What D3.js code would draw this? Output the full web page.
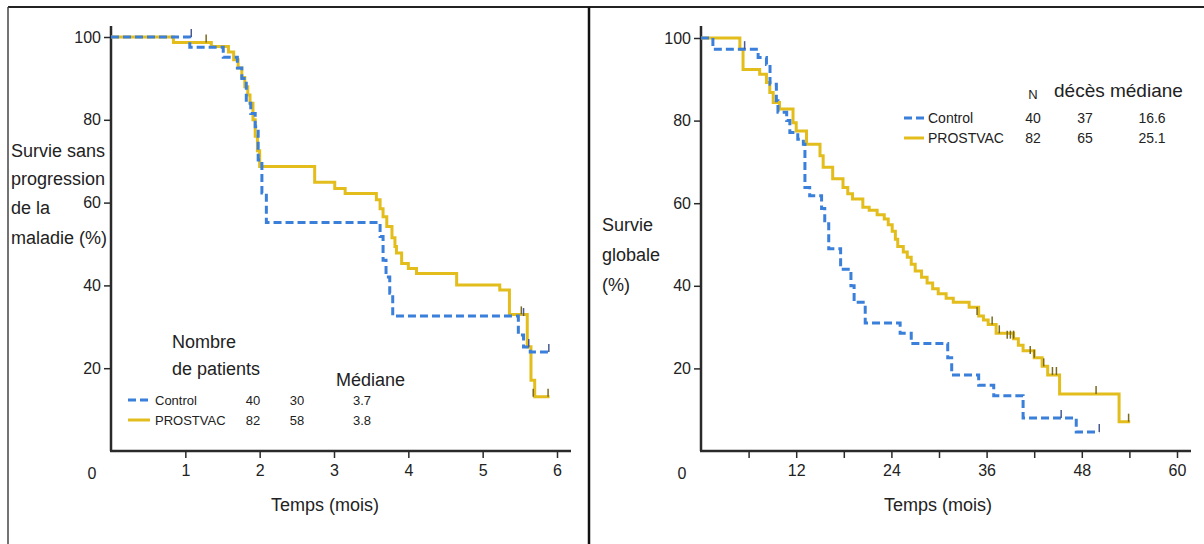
<!DOCTYPE html>
<html>
<head>
<meta charset="utf-8">
<script src="https://cdn.jsdelivr.net/npm/d3@7"></script>
<style>
  body { margin: 0; background: #fff; }
  text { font-family: "Liberation Sans", Arial, sans-serif; fill: #222; }
</style>
</head>
<body>
<script>
// left panel : survie sans progression (mois)
const pfsCtrl = [[0,100],[1.06,97.5],[1.51,95.1],[1.70,92.5],[1.76,90],[1.82,84],[1.88,81.5],[1.94,78.3],[1.98,70.3],[2.03,62.3],[2.09,55.2],[3.62,51.8],[3.66,46.1],[3.70,42],[3.75,38.1],[3.79,32.6],[5.48,28],[5.55,25.1],[5.64,23.9],[5.89,23.9]];
const pfsVac = [[0,100],[0.84,98.7],[1.35,97.7],[1.58,96.4],[1.65,94.5],[1.71,92.5],[1.76,90.2],[1.80,88],[1.84,86],[1.87,84],[1.91,80],[1.94,76],[1.97,72.5],[2.0,68.7],[2.74,64.9],[3.01,63.4],[3.15,62.2],[3.57,60.7],[3.62,58.5],[3.66,56.6],[3.71,54.2],[3.78,51.5],[3.82,49.4],[3.84,47.8],[3.91,45.3],[4.0,44.1],[4.11,42.9],[4.65,40.1],[5.23,38.9],[5.36,33.0],[5.60,25.2],[5.65,17.1],[5.70,13.1],[5.90,13.1]];
const pfsCtrlCens = [[1.08,100],[5.55,32.6],[5.62,25.1],[5.89,23.9]];
const pfsVacCens = [[1.28,98.7],[5.52,33.0],[5.68,13.1],[5.88,13.1]];

// right panel : survie globale (mois)
const osCtrl = [[0,100],[1.5,97.3],[7.2,95.3],[8.25,93.6],[8.7,88.8],[9.5,84.8],[9.7,82],[10.8,80],[11.2,77.1],[12.2,75.5],[12.9,74.3],[13.1,63.8],[13.7,61.8],[15.2,58.7],[15.6,55],[16.1,49],[17.6,44],[18.9,40],[19.3,36],[20.7,31],[25.1,28.5],[26.5,26],[31.1,22.6],[31.6,18.4],[35,15.9],[36.9,13.4],[40.6,8],[47.3,4.6],[50.2,4.6]];
const osVac = [[0,100],[4.9,97.3],[5.3,92.4],[7.4,91.2],[8.25,89.2],[8.67,86.8],[9.1,84.4],[9.9,82.8],[11.6,79.5],[12.0,77.5],[13.3,74.3],[15.0,71.5],[15.4,68.7],[16.6,65.9],[17.9,63.8],[18.5,62.3],[19.1,61],[20.4,59],[21.2,58.3],[22.2,57.2],[23.1,56.2],[23.6,54.8],[24.1,53.2],[24.5,51.3],[24.8,49.5],[25.5,48.2],[26.0,46.9],[26.5,45.2],[27.0,43.6],[27.8,42.1],[28.5,40.7],[29.2,39.3],[29.9,38.1],[30.9,37],[31.8,36],[33.8,34.8],[35.0,32.7],[35.6,31.7],[36.2,30.6],[37.2,28.5],[39.4,27.2],[40.0,25.6],[40.6,24.3],[42.0,22.6],[43.0,20.5],[43.7,18.4],[45.2,13.8],[52.7,7.1],[54.1,7.1]];
const osCtrlCens = [[5.5,97.3],[45.4,8],[50.2,4.6]];
const osVacCens = [[34.8,32.9],[36.7,30.6],[37.6,28.5],[38.6,27.2],[39.0,27.2],[39.4,27.2],[41.5,23.5],[42.0,22.6],[43.2,20.5],[44.3,18.4],[44.8,18.4],[49.8,13.8],[53.9,7.1]];

const pfsTicks = [1, 2, 3, 4, 5, 6];
const osTicks = [6, 12, 18, 24, 30, 36, 42, 48, 54, 60];
const osLabels = [12, 24, 36, 48, 60];
const yTicks = [20, 40, 60, 80, 100];

const pfsLegend = [
  {name: "Control", n: "40", ev: "30", med: "3.7"},
  {name: "PROSTVAC", n: "82", ev: "58", med: "3.8"}
];
const osLegend = [
  {name: "Control", n: "40", ev: "37", med: "16.6"},
  {name: "PROSTVAC", n: "82", ev: "65", med: "25.1"}
];

const blue = "#3a7fd9", gold = "#e3bd1c", axisCol = "#2a2a2a";

const svg = d3.select("body").append("svg")
    .attr("width", 1204)
    .attr("height", 544);

// cadre
svg.append("line").attr("x1", 8).attr("x2", 1204).attr("y1", 7).attr("y2", 7)
    .attr("stroke", "#222").attr("stroke-width", 2);
svg.append("line").attr("x1", 8).attr("x2", 8).attr("y1", 7).attr("y2", 544)
    .attr("stroke", "#444").attr("stroke-width", 1.5);
svg.append("line").attr("x1", 589).attr("x2", 589).attr("y1", 7).attr("y2", 544)
    .attr("stroke", "#111").attr("stroke-width", 2.5);

function panel(cfg) {
  const x = d3.scaleLinear().domain(cfg.xDomain).range(cfg.xRange);
  const y = d3.scaleLinear().domain([0, 100]).range(cfg.yRange);
  const g = svg.append("g");

  // axes
  const xAxis = d3.axisBottom(x).tickValues(cfg.ticks).tickSize(7).tickSizeOuter(0)
      .tickFormat(d => cfg.labels.includes(d) ? d : "");
  g.append("g").attr("transform", "translate(0," + y(0) + ")").call(xAxis)
      .call(a => a.select(".domain").remove())
      .call(a => a.selectAll("line").attr("stroke", axisCol).attr("stroke-width", 1.5))
      .call(a => a.selectAll("text").attr("font-size", 16).attr("dy", "0.95em").attr("fill", "#222")
          .style("font-family", "Liberation Sans, Arial, sans-serif"));
  const yAxis = d3.axisLeft(y).tickValues(yTicks).tickSize(7).tickSizeOuter(0);
  g.append("g").attr("transform", "translate(" + x(0) + ",0)").call(yAxis)
      .call(a => a.select(".domain").remove())
      .call(a => a.selectAll("line").attr("stroke", axisCol).attr("stroke-width", 1.5))
      .call(a => a.selectAll("text").attr("font-size", 16).attr("x", -10).attr("fill", "#222")
          .style("font-family", "Liberation Sans, Arial, sans-serif"));
  g.append("line").attr("x1", x(0) - 1).attr("x2", cfg.axisEnd).attr("y1", y(0)).attr("y2", y(0))
      .attr("stroke", axisCol).attr("stroke-width", 2.5);
  g.append("line").attr("x1", x(0)).attr("x2", x(0)).attr("y1", 26).attr("y2", y(0))
      .attr("stroke", axisCol).attr("stroke-width", 2.5);
  g.append("text").attr("x", x(0) - 19).attr("y", y(0) + 28).attr("text-anchor", "middle")
      .attr("font-size", 16).text("0");
  g.append("text").attr("x", cfg.titleX).attr("y", 511).attr("text-anchor", "middle")
      .attr("font-size", 18).text("Temps (mois)");

  g.selectAll(".ylab").data(cfg.yLabel).enter().append("text")
      .attr("x", cfg.yLabelX).attr("y", (d, i) => cfg.yLabelY[i])
      .attr("font-size", 18).text(d => d);

  // courbes
  const line = d3.line().x(d => x(d[0])).y(d => y(d[1])).curve(d3.curveStepAfter);
  g.append("path").datum(cfg.vac).attr("d", line).attr("fill", "none")
      .attr("stroke", gold).attr("stroke-width", 3);
  g.append("path").datum(cfg.ctrl).attr("d", line).attr("fill", "none")
      .attr("stroke", blue).attr("stroke-width", 3).attr("stroke-dasharray", "8,4");

  const cens = cfg.vacCens.map(d => ({p: d, c: "#7a6a20"}))
      .concat(cfg.ctrlCens.map(d => ({p: d, c: "#4a5a90"})));
  g.selectAll(".cens").data(cens).enter().append("line")
      .attr("x1", d => x(d.p[0])).attr("x2", d => x(d.p[0]))
      .attr("y1", d => y(d.p[1])).attr("y2", d => y(d.p[1]) - 8)
      .attr("stroke", d => d.c).attr("stroke-width", 1.5);
  return g;
}

const left = panel({
  xDomain: [0, 6], xRange: [111, 557], yRange: [451, 37], axisEnd: 571,
  ticks: pfsTicks, labels: pfsTicks, titleX: 325,
  yLabel: ["Survie sans", "progression", "de la", "maladie (%)"],
  yLabelX: 11, yLabelY: [157, 185, 214, 244],
  ctrl: pfsCtrl, vac: pfsVac, ctrlCens: pfsCtrlCens, vacCens: pfsVacCens
});

const right = panel({
  xDomain: [0, 60], xRange: [701, 1177], yRange: [451, 38], axisEnd: 1191,
  ticks: osTicks, labels: osLabels, titleX: 938,
  yLabel: ["Survie", "globale", "(%)"],
  yLabelX: 602, yLabelY: [231, 261, 291],
  ctrl: osCtrl, vac: osVac, ctrlCens: osCtrlCens, vacCens: osVacCens
});

// légendes
function legend(g, rows, o) {
  rows.forEach((r, i) => {
    const yy = o.y + i * o.dy;
    g.append("line").attr("x1", o.x0).attr("x2", o.x1).attr("y1", yy).attr("y2", yy)
        .attr("stroke", i === 0 ? blue : gold).attr("stroke-width", 3)
        .attr("stroke-dasharray", i === 0 ? "8,4" : null);
    g.append("text").attr("x", o.tx).attr("y", yy + 5).attr("font-size", o.fs).text(r.name);
    [r.n, r.ev, r.med].forEach((v, j) => {
      g.append("text").attr("x", o.cols[j]).attr("y", yy + 5).attr("text-anchor", "middle")
          .attr("font-size", o.fs).text(v);
    });
  });
}

left.append("text").attr("x", 172).attr("y", 348).attr("font-size", 18).text("Nombre");
left.append("text").attr("x", 172).attr("y", 375).attr("font-size", 18).text("de patients");
left.append("text").attr("x", 336).attr("y", 386).attr("font-size", 18).text("Médiane");
legend(left, pfsLegend, {y: 400, dy: 20, x0: 128, x1: 150, tx: 155, fs: 13, cols: [253, 297, 362]});

right.append("text").attr("x", 1033).attr("y", 99).attr("text-anchor", "middle").attr("font-size", 13).text("N");
right.append("text").attr("x", 1054).attr("y", 97).attr("font-size", 19).text("décès médiane");
legend(right, osLegend, {y: 118, dy: 20, x0: 904, x1: 924, tx: 928, fs: 14, cols: [1033, 1085, 1152]});
</script>
</body>
</html>
